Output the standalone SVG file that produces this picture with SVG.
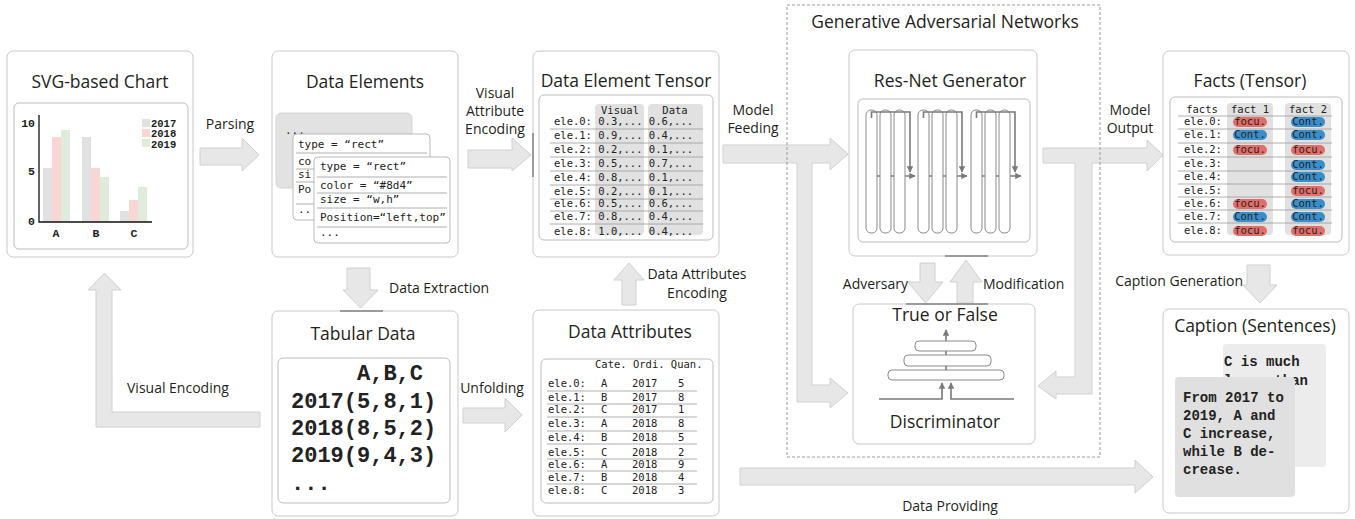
<svg xmlns="http://www.w3.org/2000/svg" width="1355" height="519" viewBox="0 0 1355 519">
<defs>
<style>
.box{fill:#fff;stroke:#c9c9c9;stroke-width:1}
.inner{fill:#fff;stroke:#bdbdbd;stroke-width:1}
.arr{fill:#e7e7e7;stroke:#d0d0d0;stroke-width:1}
.t{font-family:"Open Sans","Noto Sans",sans-serif;font-size:17.5px;fill:#231f20;text-anchor:middle}
.l{font-family:"Open Sans","Noto Sans",sans-serif;font-size:14px;fill:#231f20}
.c{text-anchor:middle}
.e{text-anchor:end}
.m{font-family:"DejaVu Sans Mono",monospace;font-size:10.5px;fill:#222}
.mc{font-family:"DejaVu Sans Mono",monospace;font-size:11px;fill:#222}
.cb{font-family:"Liberation Mono",monospace;font-weight:bold;fill:#222}
.row{stroke:#9a9a9a;stroke-width:0.8}
.col{fill:#e1e1e1}
.pill{fill:#fff;stroke:#8a8a8a;stroke-width:1}
.ln{stroke:#7a7a7a;stroke-width:1.6;fill:none}
.fo{fill:#e26e69}
.co{fill:#3a8fcb}
.base{stroke:#9a9a9a;stroke-width:2}
.card{fill:#fff;stroke:#aaa;stroke-width:0.8}
</style>
<marker id="ah" viewBox="0 0 10 10" refX="9" refY="5" markerWidth="4" markerHeight="4" orient="auto"><path d="M0,0L10,5L0,10z" fill="#7a7a7a"/></marker>
</defs>
<rect width="1355" height="519" fill="#fff"/>

<!-- connectors -->
<g id="connectors">
<polygon class="arr" points="200,148 242,148 242,138 259,155 242,171 242,165 200,165"/>
<polygon class="arr" points="468,150 512,150 512,138 531,155 512,171 512,168 468,168"/>
<polygon class="arr" points="723,145 830,145 830,138 848,154 830,170 830,163 812,163 812,385 830,385 830,378 848,393 830,408 830,402 797,402 797,163 723,163"/>
<polygon class="arr" points="1043,148 1147,148 1147,140 1163,155 1147,171 1147,163 1092,163 1092,394 1056,394 1056,399 1038,386 1056,371 1056,377 1075,377 1075,163 1043,163"/>
<polygon class="arr" points="260,412 260,427 96,427 96,290 88,290 104.5,273 121,290 112,290 112,412"/>
<polygon class="arr" points="347,268 370,268 370,290 378,290 360.5,308 343,290 347,290"/>
<polygon class="arr" points="463,408 505,408 505,398 522,415 505,432 505,423 463,423"/>
<polygon class="arr" points="622,305 636,305 636,280 644,280 629,263 614,280 622,280"/>
<polygon class="arr" points="920,263 935,263 935,282 943,282 925.5,303 908,282 920,282"/>
<polygon class="arr" points="957,303 973,303 973,282 982,282 966,260 950,282 957,282"/>
<polygon class="arr" points="1247,265 1270,265 1270,285 1277,285 1260,303 1243,285 1247,285"/>
<polygon class="arr" points="740,468 1135,468 1135,460 1153,477 1135,493 1135,485 740,485"/>
<text class="l c" x="230" y="129">Parsing</text>
<text class="l c" x="495" y="98">Visual</text>
<text class="l c" x="495" y="116">Attribute</text>
<text class="l c" x="495" y="134">Encoding</text>
<text class="l c" x="753" y="115">Model</text>
<text class="l c" x="753" y="133">Feeding</text>
<text class="l c" x="1130" y="115">Model</text>
<text class="l c" x="1130" y="133">Output</text>
<text class="l" x="389" y="293">Data Extraction</text>
<text class="l c" x="492" y="393">Unfolding</text>
<text class="l c" x="697" y="279">Data Attributes</text>
<text class="l c" x="697" y="298">Encoding</text>
<text class="l" x="127" y="393">Visual Encoding</text>
<text class="l e" x="908" y="289">Adversary</text>
<text class="l" x="983" y="289">Modification</text>
<text class="l e" x="1243" y="286">Caption Generation</text>
<text class="l c" x="950" y="511">Data Providing</text>
</g>

<!-- SVG-based chart -->
<g id="svg-chart">
<rect class="box" x="7" y="51" width="186" height="206" rx="6"/>
<text class="t" x="100" y="88">SVG-based Chart</text>
<rect class="inner" x="14" y="103" width="174" height="146" rx="5"/>
<rect x="43" y="168" width="9" height="54" fill="#e1e1e1"/>
<rect x="52" y="137" width="9" height="85" fill="#f7d6d3"/>
<rect x="61" y="130" width="9" height="92" fill="#e0ebdc"/>
<rect x="82" y="137" width="9" height="85" fill="#e1e1e1"/>
<rect x="91" y="168" width="9" height="54" fill="#f7d6d3"/>
<rect x="100" y="177" width="9" height="45" fill="#e0ebdc"/>
<rect x="120" y="211" width="9" height="11" fill="#e1e1e1"/>
<rect x="129" y="200" width="9" height="22" fill="#f7d6d3"/>
<rect x="138" y="187" width="9" height="35" fill="#e0ebdc"/>
<path d="M39,115V222H152" fill="none" stroke="#111" stroke-width="1.3"/>
<text class="cb e" x="35" y="127" font-size="11.5">10</text>
<text class="cb e" x="35" y="175" font-size="11.5">5</text>
<text class="cb e" x="35" y="225" font-size="11.5">0</text>
<text class="cb c" x="56" y="237" font-size="11.5">A</text>
<text class="cb c" x="96" y="237" font-size="11.5">B</text>
<text class="cb c" x="134" y="237" font-size="11.5">C</text>
<rect x="142" y="119" width="8" height="8" fill="#e1e1e1"/>
<rect x="142" y="129" width="8" height="8" fill="#f7d6d3"/>
<rect x="142" y="139" width="8" height="8" fill="#e0ebdc"/>
<text class="cb" x="151" y="126.5" font-size="10.5">2017</text>
<text class="cb" x="151" y="137" font-size="10.5">2018</text>
<text class="cb" x="151" y="147.5" font-size="10.5">2019</text>
</g>

<!-- Data elements -->
<g id="data-elements">
<rect class="box" x="272" y="51" width="186" height="206" rx="6"/>
<text class="t" x="365" y="88">Data Elements</text>
<rect x="276" y="113" width="136" height="75" rx="5" fill="#e2e2e2" stroke="#cfcfcf" stroke-width="0.8"/>
<text class="mc" x="285" y="134">...</text>
<rect class="card" x="293" y="134" width="137" height="86" rx="4"/>
<text class="mc" x="298" y="148">type  = “rect”</text>
<line class="row" x1="296" y1="153" x2="427" y2="153"/>
<text class="mc" x="298" y="165">co</text>
<line class="row" x1="296" y1="169" x2="427" y2="169"/>
<text class="mc" x="298" y="178">si</text>
<line class="row" x1="296" y1="182" x2="427" y2="182"/>
<text class="mc" x="298" y="193">Po</text>
<line class="row" x1="296" y1="204" x2="427" y2="204"/>
<text class="mc" x="298" y="213">..</text>
<rect class="card" x="314" y="157" width="136" height="86" rx="4"/>
<text class="mc" x="320" y="170">type  = “rect”</text>
<line class="row" x1="317" y1="177" x2="447" y2="177"/>
<text class="mc" x="320" y="189">color = “#8d4”</text>
<line class="row" x1="317" y1="193" x2="447" y2="193"/>
<text class="mc" x="320" y="203">size  = “w,h”</text>
<line class="row" x1="317" y1="208" x2="447" y2="208"/>
<text class="mc" x="320" y="221">Position=“left,top”</text>
<line class="row" x1="317" y1="227" x2="447" y2="227"/>
<text class="mc" x="320" y="236">...</text>
</g>

<!-- Data element tensor -->
<g id="data-element-tensor">
<rect class="box" x="533" y="51" width="186" height="206" rx="6"/>
<line class="base" x1="533" y1="133" x2="533" y2="177"/>
<text class="t" x="626" y="87">Data Element Tensor</text>
<rect class="inner" x="539" y="95" width="174" height="145" rx="5"/>
<rect class="col" x="595" y="104" width="49" height="131" rx="4"/>
<rect class="col" x="648" y="104" width="55" height="131" rx="4"/>
<text class="m c" x="620" y="114">Visual</text>
<text class="m c" x="675" y="114">Data</text>
<g class="row">
<line x1="550" y1="129" x2="703" y2="129"/><line x1="550" y1="143" x2="703" y2="143"/>
<line x1="550" y1="157" x2="703" y2="157"/><line x1="550" y1="171" x2="703" y2="171"/>
<line x1="550" y1="185" x2="703" y2="185"/><line x1="550" y1="199" x2="703" y2="199"/>
<line x1="550" y1="211" x2="703" y2="211"/><line x1="550" y1="224" x2="703" y2="224"/>
</g>
<text class="m" x="554" y="125">ele.0: 0.3,... 0.6,...</text>
<text class="m" x="554" y="139">ele.1: 0.9,... 0.4,...</text>
<text class="m" x="554" y="153">ele.2: 0.2,... 0.1,...</text>
<text class="m" x="554" y="167">ele.3: 0.5,... 0.7,...</text>
<text class="m" x="554" y="181">ele.4: 0.8,... 0.1,...</text>
<text class="m" x="554" y="195">ele.5: 0.2,... 0.1,...</text>
<text class="m" x="554" y="207">ele.6: 0.5,... 0.6,...</text>
<text class="m" x="554" y="220">ele.7: 0.8,... 0.4,...</text>
<text class="m" x="554" y="235">ele.8: 1.0,... 0.4,...</text>
</g>

<!-- Res-Net generator -->
<g id="resnet-generator">
<rect class="box" x="849" y="50" width="188" height="206" rx="6"/>
<line class="base" x1="945" y1="256" x2="988" y2="256"/>
<text class="t" x="950" y="87">Res-Net Generator</text>
<rect class="inner" x="858" y="99" width="172" height="143" rx="5"/>
<line class="ln" x1="877" y1="176" x2="915" y2="176" marker-end="url(#ah)"/>
<line class="ln" x1="929" y1="176" x2="967" y2="176" marker-end="url(#ah)"/>
<line class="ln" x1="981" y1="176" x2="1021" y2="176" marker-end="url(#ah)"/>
<rect class="pill" x="866" y="110" width="11" height="123" rx="5"/>
<rect class="pill" x="880" y="110" width="11" height="123" rx="5"/>
<rect class="pill" x="894" y="110" width="11" height="123" rx="5"/>
<rect class="pill" x="918" y="110" width="11" height="123" rx="5"/>
<rect class="pill" x="932" y="110" width="11" height="123" rx="5"/>
<rect class="pill" x="946" y="110" width="11" height="123" rx="5"/>
<rect class="pill" x="971" y="110" width="11" height="123" rx="5"/>
<rect class="pill" x="985" y="110" width="11" height="123" rx="5"/>
<rect class="pill" x="999" y="110" width="11" height="123" rx="5"/>
<path class="ln" d="M871.5,118V112H910V172" marker-end="url(#ah)"/>
<path class="ln" d="M923.5,118V112H962V172" marker-end="url(#ah)"/>
<path class="ln" d="M976.5,118V112H1015V172" marker-end="url(#ah)"/>
</g>

<!-- Discriminator -->
<g id="discriminator">
<rect class="box" x="853" y="304" width="182" height="140" rx="6"/>
<line class="base" x1="906" y1="304" x2="988" y2="304"/>
<text class="t" x="945" y="321" font-size="16">True or False</text>
<line class="ln" x1="946" y1="379" x2="946" y2="330" marker-end="url(#ah)"/>
<rect class="pill" x="915" y="341" width="61" height="10" rx="4"/>
<rect class="pill" x="904" y="355" width="87" height="11" rx="4"/>
<rect class="pill" x="888" y="370" width="116" height="10" rx="4"/>
<path class="ln" d="M879,399H942V383" marker-end="url(#ah)"/>
<path class="ln" d="M1014,399H951V383" marker-end="url(#ah)"/>
<text class="t" x="945" y="428" font-size="19">Discriminator</text>
</g>

<!-- GAN frame -->
<g id="gan">
<rect x="787" y="5" width="313" height="452" fill="none" stroke="#9a9a9a" stroke-width="1" stroke-dasharray="3,2"/>
<text class="t" x="945" y="28">Generative Adversarial Networks</text>
</g>

<!-- Facts tensor -->
<g id="facts-tensor">
<rect class="box" x="1163" y="51" width="186" height="204" rx="6"/>
<text class="t" x="1250" y="87">Facts (Tensor)</text>
<rect class="inner" x="1170" y="97" width="172" height="145" rx="5"/>
<rect class="col" x="1227" y="103" width="46" height="132" rx="4"/>
<rect class="col" x="1285" y="103" width="46" height="132" rx="4"/>
<text class="m c" x="1202" y="113">facts</text>
<text class="m c" x="1250" y="113">fact 1</text>
<text class="m c" x="1308" y="113">fact 2</text>
<g class="row">
<line x1="1178" y1="116" x2="1332" y2="116"/><line x1="1178" y1="129" x2="1332" y2="129"/>
<line x1="1178" y1="143" x2="1332" y2="143"/><line x1="1178" y1="157" x2="1332" y2="157"/>
<line x1="1178" y1="171" x2="1332" y2="171"/><line x1="1178" y1="184" x2="1332" y2="184"/>
<line x1="1178" y1="197" x2="1332" y2="197"/><line x1="1178" y1="210" x2="1332" y2="210"/>
<line x1="1178" y1="223" x2="1332" y2="223"/>
</g>
<text class="m" x="1184" y="125">ele.0:</text>
<text class="m" x="1184" y="138">ele.1:</text>
<text class="m" x="1184" y="153">ele.2:</text>
<text class="m" x="1184" y="167">ele.3:</text>
<text class="m" x="1184" y="180">ele.4:</text>
<text class="m" x="1184" y="194">ele.5:</text>
<text class="m" x="1184" y="207">ele.6:</text>
<text class="m" x="1184" y="220">ele.7:</text>
<text class="m" x="1184" y="234">ele.8:</text>
<rect class="fo" x="1233" y="117" width="34" height="10" rx="5"/>
<rect class="co" x="1233" y="130" width="34" height="10" rx="5"/>
<rect class="fo" x="1233" y="145" width="34" height="10" rx="5"/>
<rect class="fo" x="1233" y="199" width="34" height="10" rx="5"/>
<rect class="co" x="1233" y="212" width="34" height="10" rx="5"/>
<rect class="fo" x="1233" y="226" width="34" height="10" rx="5"/>
<rect class="co" x="1291" y="117" width="34" height="10" rx="5"/>
<rect class="co" x="1291" y="130" width="34" height="10" rx="5"/>
<rect class="fo" x="1291" y="145" width="34" height="10" rx="5"/>
<rect class="co" x="1291" y="160" width="34" height="10" rx="5"/>
<rect class="co" x="1291" y="172" width="34" height="10" rx="5"/>
<rect class="fo" x="1291" y="186" width="34" height="10" rx="5"/>
<rect class="co" x="1291" y="199" width="34" height="10" rx="5"/>
<rect class="co" x="1291" y="212" width="34" height="10" rx="5"/>
<rect class="fo" x="1291" y="226" width="34" height="10" rx="5"/>
<g class="m c">
<text x="1250" y="125">focu.</text><text x="1250" y="138">Cont.</text><text x="1250" y="153">focu.</text>
<text x="1250" y="207">focu.</text><text x="1250" y="220">Cont.</text><text x="1250" y="234">focu.</text>
<text x="1308" y="125">Cont.</text><text x="1308" y="138">Cont.</text><text x="1308" y="153">focu.</text>
<text x="1308" y="168">Cont.</text><text x="1308" y="180">Cont.</text><text x="1308" y="194">focu.</text>
<text x="1308" y="207">Cont.</text><text x="1308" y="220">Cont.</text><text x="1308" y="234">focu.</text>
</g>
</g>

<!-- Tabular data -->
<g id="tabular-data">
<rect class="box" x="272" y="311" width="186" height="205" rx="6"/>
<line class="base" x1="340" y1="311" x2="383" y2="311"/>
<text class="t" x="363" y="340">Tabular Data</text>
<rect class="inner" x="278" y="358" width="172" height="145" rx="5"/>
<g class="cb" font-size="22">
<text x="357" y="380">A,B,C</text>
<text x="291" y="408">2017(5,8,1)</text>
<text x="291" y="435">2018(8,5,2)</text>
<text x="291" y="462">2019(9,4,3)</text>
<text x="291" y="490">...</text>
</g>
</g>

<!-- Data attributes -->
<g id="data-attributes">
<rect class="box" x="533" y="310" width="186" height="206" rx="6"/>
<text class="t" x="630" y="338">Data Attributes</text>
<rect class="inner" x="541" y="359" width="172" height="144" rx="5"/>
<text class="m" x="595" y="368">Cate. Ordi. Quan.</text>
<g class="row">
<line x1="547" y1="391" x2="697" y2="391"/><line x1="547" y1="404" x2="697" y2="404"/>
<line x1="547" y1="417" x2="697" y2="417"/><line x1="547" y1="431" x2="697" y2="431"/>
<line x1="547" y1="444" x2="697" y2="444"/><line x1="547" y1="459" x2="697" y2="459"/>
<line x1="547" y1="471" x2="697" y2="471"/><line x1="547" y1="484" x2="697" y2="484"/>
</g>
<g class="m">
<text x="548" y="387">ele.0:</text><text x="601" y="387">A</text><text x="632" y="387">2017</text><text x="678" y="387">5</text>
<text x="548" y="401">ele.1:</text><text x="601" y="401">B</text><text x="632" y="401">2017</text><text x="678" y="401">8</text>
<text x="548" y="413">ele.2:</text><text x="601" y="413">C</text><text x="632" y="413">2017</text><text x="678" y="413">1</text>
<text x="548" y="427">ele.3:</text><text x="601" y="427">A</text><text x="632" y="427">2018</text><text x="678" y="427">8</text>
<text x="548" y="441">ele.4:</text><text x="601" y="441">B</text><text x="632" y="441">2018</text><text x="678" y="441">5</text>
<text x="548" y="456">ele.5:</text><text x="601" y="456">C</text><text x="632" y="456">2018</text><text x="678" y="456">2</text>
<text x="548" y="468">ele.6:</text><text x="601" y="468">A</text><text x="632" y="468">2018</text><text x="678" y="468">9</text>
<text x="548" y="481">ele.7:</text><text x="601" y="481">B</text><text x="632" y="481">2018</text><text x="678" y="481">4</text>
<text x="548" y="494">ele.8:</text><text x="601" y="494">C</text><text x="632" y="494">2018</text><text x="678" y="494">3</text>
</g>
</g>

<!-- Caption -->
<g id="caption">
<rect class="box" x="1163" y="309" width="186" height="204" rx="6"/>
<text class="t" x="1255" y="332">Caption (Sentences)</text>
<rect x="1223" y="344" width="103" height="123" rx="4" fill="#ececec"/>
<g class="cb" font-size="14">
<text x="1224" y="366">C is much</text>
<text x="1224" y="385">lower than</text>
</g>
<rect x="1175" y="377" width="120" height="120" rx="4" fill="#e0e0e0"/>
<g class="cb" font-size="14">
<text x="1183" y="402">From 2017 to</text>
<text x="1183" y="420">2019, A and</text>
<text x="1183" y="438">C increase,</text>
<text x="1183" y="456">while B de-</text>
<text x="1183" y="474">crease.</text>
</g>
</g>
</svg>
